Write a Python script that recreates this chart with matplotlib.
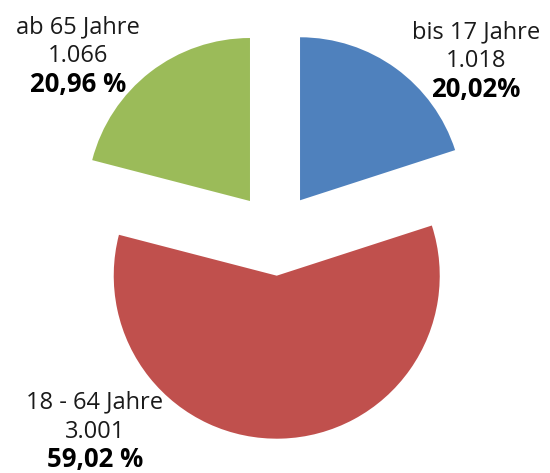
import matplotlib
matplotlib.use('Agg')
import matplotlib.pyplot as plt

# Altersgruppen
labels = ['bis 17 Jahre', '18 - 64 Jahre', 'ab 65 Jahre']
counts = [1018, 3001, 1066]
count_text = ['1.018', '3.001', '1.066']
pct_text = ['20,02%', '59,02 %', '20,96 %']
colors = ['#4F81BD', '#C0504D', '#9BBB59']

plt.rcParams['font.family'] = ['Open Sans', 'DejaVu Sans']

H = 473
fig = plt.figure(figsize=(5.5, 4.73), dpi=100)
ax = fig.add_axes([0, 0, 1, 1])

# pie in pixel coords (y up), explode in absolute units
cx, cy, r = 275.5, H - 234, 163
ax.pie(counts, colors=colors, startangle=90, counterclock=False,
       explode=[41.7] * 3, center=(cx, cy), radius=r,
       wedgeprops=dict(linewidth=0))
ax.set_xlim(0, 550)
ax.set_ylim(0, H)
ax.set_aspect('equal')
ax.axis('off')

# Beschriftungen: x-Mitte und Grundlinie der ersten Zeile
label_pos = [(476, 38), (95, 408), (78, 33)]
step = 29.5
for (x, y), lab, c, p in zip(label_pos, labels, count_text, pct_text):
    ax.text(x, H - y, lab, ha='center', va='baseline', fontsize=17, color='#1a1a1a')
    ax.text(x, H - y - step, c, ha='center', va='baseline', fontsize=17, color='#1a1a1a')
    ax.text(x, H - y - 2 * step, p, ha='center', va='baseline', fontsize=18.5,
            fontweight='bold', color='black')

fig.savefig('out.png', dpi=100)
